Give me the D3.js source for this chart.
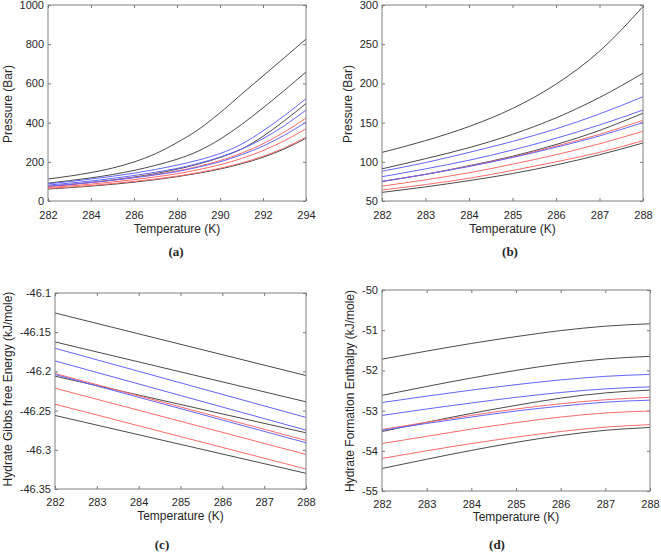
<!DOCTYPE html>
<html>
<head>
<meta charset="utf-8">
<script src="https://cdn.jsdelivr.net/npm/d3@7"></script>
<style>
  html, body { margin: 0; padding: 0; background: #fff; }
  svg { display: block; }
  text { font-family: "Liberation Sans", Arial, sans-serif; fill: #262626; }
</style>
</head>
<body>
<svg id="chart" width="661" height="553"></svg>
<script>
// ---------------- DATA ----------------
// series order (same in all four panels)
const seriesNames = ["S1", "S2", "S3", "S4", "S5", "S6", "S7", "S8", "S9", "S10"];
const seriesColors = ["black", "black", "blue", "blue", "black", "red", "blue", "red", "red", "black"];

// (a) pressure vs temperature, 282–294 K
const tempsA = [282, 283, 284, 285, 286, 287, 288, 289, 290, 291, 292, 293, 294];
const pressureA = [
  [112, 127, 145, 168, 199, 241, 298, 365, 450, 545, 638, 732, 826],
  [91, 104, 118, 135, 156, 182, 213, 255, 315, 390, 475, 565, 658],
  [88, 99, 112, 126, 142, 161, 183, 209, 242, 290, 358, 436, 522],
  [81, 91, 102, 115, 130, 147, 166, 192, 224, 265, 318, 385, 464],
  [75, 84, 95, 107, 122, 140, 162, 189, 222, 265, 330, 410, 497],
  [75, 84, 94.5, 106, 120, 135, 153, 177, 206, 244, 292, 352, 423],
  [75, 84, 94, 105.5, 118.5, 133, 150, 173, 200, 236, 280, 336, 402],
  [69, 77, 86, 97, 109, 123, 139, 160, 185, 217, 257, 308, 368],
  [64, 71, 79, 89, 100, 112, 127, 145, 167, 194, 228, 271, 325],
  [61, 68, 76, 85, 96, 109, 124, 142, 163, 190, 223, 266, 320]
];

// (b) pressure vs temperature, 282–288 K
const tempsB = [282, 283, 284, 285, 286, 287, 288];
const pressureB = [
  [112, 127, 145, 168, 199, 241, 298],
  [91, 104, 118, 135, 156, 182, 213],
  [88, 99, 112, 126, 142, 161, 183],
  [81, 91, 102, 115, 130, 147, 166],
  [75, 84, 95, 107, 122, 140, 162],
  [75, 84, 94.5, 106, 120, 135, 153],
  [75, 84, 94, 105.5, 118.5, 133, 150],
  [69, 77, 86, 97, 109, 123, 139],
  [64, 71, 79, 89, 100, 112, 127],
  [61, 68, 76, 85, 96, 109, 124]
];

// (c) hydrate Gibbs free energy (kJ/mole), straight lines
const tempsC = [282, 288];
const gibbsC = [
  [-46.1255, -46.2053],
  [-46.1624, -46.2388],
  [-46.1705, -46.2587],
  [-46.1866, -46.2749],
  [-46.2061, -46.2783],
  [-46.2027, -46.2880],
  [-46.2040, -46.2910],
  [-46.2214, -46.3059],
  [-46.2418, -46.3245],
  [-46.2562, -46.3300]
];

// (d) hydrate formation enthalpy (kJ/mole)
const tempsD = [282, 283, 284, 285, 286, 287, 288];
const enthalpyD = [
  [-51.72, -51.52, -51.33, -51.16, -51.01, -50.90, -50.84],
  [-52.62, -52.40, -52.19, -52.00, -51.835, -51.715, -51.65],
  [-52.80, -52.64, -52.49, -52.355, -52.236, -52.148, -52.10],
  [-53.12, -52.96, -52.81, -52.67, -52.55, -52.46, -52.41],
  [-53.52, -53.29, -53.07, -52.87, -52.69, -52.56, -52.49],
  [-53.47, -53.29, -53.12, -52.96, -52.83, -52.73, -52.67],
  [-53.49, -53.32, -53.16, -53.01, -52.89, -52.79, -52.74],
  [-53.82, -53.64, -53.46, -53.30, -53.16, -53.06, -53.01],
  [-54.19, -54.00, -53.82, -53.66, -53.52, -53.41, -53.35],
  [-54.44, -54.21, -53.99, -53.79, -53.62, -53.49, -53.42]
];

// tick labels
const xTicksA = [282, 284, 286, 288, 290, 292, 294];
const xTicksBCD = [282, 283, 284, 285, 286, 287, 288];
const yTicksA = [0, 200, 400, 600, 800, 1000];
const yTicksB = [50, 100, 150, 200, 250, 300];
const yTicksC = [-46.35, -46.3, -46.25, -46.2, -46.15, -46.1];
const yTicksD = [-55, -54, -53, -52, -51, -50];

// ---------------- DRAWING ----------------
const colorMap = { black: "#4a4a4a", blue: "#6464ff", red: "#ff6a6a" };
const svg = d3.select("#chart");

function panel(cfg) {
  const g = svg.append("g");
  const x = d3.scaleLinear().domain(cfg.xDomain).range([cfg.left, cfg.right]);
  const y = d3.scaleLinear().domain(cfg.yDomain).range([cfg.bottom, cfg.top]);
  const tickLen = 3;
  const fmt = v => String(+v.toFixed(2));

  // bottom axis (ticks inward)
  const bottomAxis = d3.axisBottom(x).tickValues(cfg.xTicks).tickSize(-tickLen).tickPadding(0).tickFormat(fmt);
  const ax = g.append("g").attr("transform", `translate(0,${cfg.bottom})`).call(bottomAxis);
  ax.select(".domain").remove();
  ax.selectAll(".tick line").attr("stroke", "#777");
  ax.selectAll(".tick text").attr("y", cfg.xTickY - cfg.bottom).attr("dy", 0)
    .style("font-size", "11px").attr("fill", "#262626");

  const topAxis = d3.axisTop(x).tickValues(cfg.xTicks).tickSize(-tickLen).tickFormat("");
  const at = g.append("g").attr("transform", `translate(0,${cfg.top})`).call(topAxis);
  at.select(".domain").remove();
  at.selectAll(".tick line").attr("stroke", "#777");

  // left axis
  const leftAxis = d3.axisLeft(y).tickValues(cfg.yTicks).tickSize(-tickLen).tickPadding(4).tickFormat(fmt);
  const ay = g.append("g").attr("transform", `translate(${cfg.left},0)`).call(leftAxis);
  ay.select(".domain").remove();
  ay.selectAll(".tick line").attr("stroke", "#777");
  ay.selectAll(".tick text").attr("x", -4).style("font-size", "11px").attr("fill", "#262626");

  const rightAxis = d3.axisRight(y).tickValues(cfg.yTicks).tickSize(-tickLen).tickFormat("");
  const ar = g.append("g").attr("transform", `translate(${cfg.right},0)`).call(rightAxis);
  ar.select(".domain").remove();
  ar.selectAll(".tick line").attr("stroke", "#777");

  // series lines
  const line = d3.line()
    .x((d, i) => x(cfg.temps[i]))
    .y(d => y(d))
    .curve(d3.curveMonotoneX);
  const order = cfg.values.map((v, i) => i).filter(i => seriesColors[i] === "black")
    .concat(cfg.values.map((v, i) => i).filter(i => seriesColors[i] !== "black"));
  g.append("g").selectAll("path")
    .data(order)
    .join("path")
    .attr("d", i => line(cfg.values[i]))
    .attr("fill", "none")
    .attr("stroke", i => colorMap[seriesColors[i]])
    .attr("stroke-width", 1);

  // frame
  g.append("rect")
    .attr("x", cfg.left).attr("y", cfg.top)
    .attr("width", cfg.right - cfg.left).attr("height", cfg.bottom - cfg.top)
    .attr("fill", "none").attr("stroke", "#808080").attr("stroke-width", 1);

  // axis titles
  g.append("text")
    .attr("x", (cfg.left + cfg.right) / 2).attr("y", cfg.xTitleY)
    .attr("text-anchor", "middle").style("font-size", "12px")
    .text("Temperature (K)");
  g.append("text")
    .attr("transform", `translate(${cfg.yTitleX},${cfg.yTitleCY}) rotate(-90)`)
    .attr("text-anchor", "middle").style("font-size", "12px")
    .text(cfg.yTitle);

  // sub-figure label
  g.append("text")
    .attr("x", cfg.subX).attr("y", cfg.subY)
    .attr("text-anchor", "middle")
    .style("font-family", "'Liberation Serif', 'Times New Roman', serif")
    .style("font-weight", "bold").style("font-size", "13px")
    .attr("fill", "#000")
    .text(cfg.sub);
}

panel({
  left: 48, right: 306, top: 5, bottom: 201,
  xDomain: [282, 294], yDomain: [0, 1000],
  xTicks: xTicksA, yTicks: yTicksA,
  temps: tempsA, values: pressureA,
  xTickY: 219, xTitleY: 233,
  yTitle: "Pressure (Bar)", yTitleX: 12, yTitleCY: 104,
  sub: "(a)", subX: 176, subY: 256
});

panel({
  left: 382, right: 643, top: 5, bottom: 201,
  xDomain: [282, 288], yDomain: [50, 300],
  xTicks: xTicksBCD, yTicks: yTicksB,
  temps: tempsB, values: pressureB,
  xTickY: 219, xTitleY: 233,
  yTitle: "Pressure (Bar)", yTitleX: 352, yTitleCY: 104,
  sub: "(b)", subX: 510, subY: 256
});

panel({
  left: 55, right: 306, top: 293, bottom: 489,
  xDomain: [282, 288], yDomain: [-46.35, -46.1],
  xTicks: xTicksBCD, yTicks: yTicksC,
  temps: tempsC, values: gibbsC,
  xTickY: 506, xTitleY: 520,
  yTitle: "Hydrate Gibbs free Energy (kJ/mole)", yTitleX: 12, yTitleCY: 389,
  sub: "(c)", subX: 162, subY: 549
});

panel({
  left: 382, right: 650, top: 290, bottom: 491,
  xDomain: [282, 288], yDomain: [-55, -50],
  xTicks: xTicksBCD, yTicks: yTicksD,
  temps: tempsD, values: enthalpyD,
  xTickY: 508, xTitleY: 521,
  yTitle: "Hydrate Formation Enthalpy (kJ/mole)", yTitleX: 354, yTitleCY: 391,
  sub: "(d)", subX: 497, subY: 549
});
</script>
</body>
</html>
